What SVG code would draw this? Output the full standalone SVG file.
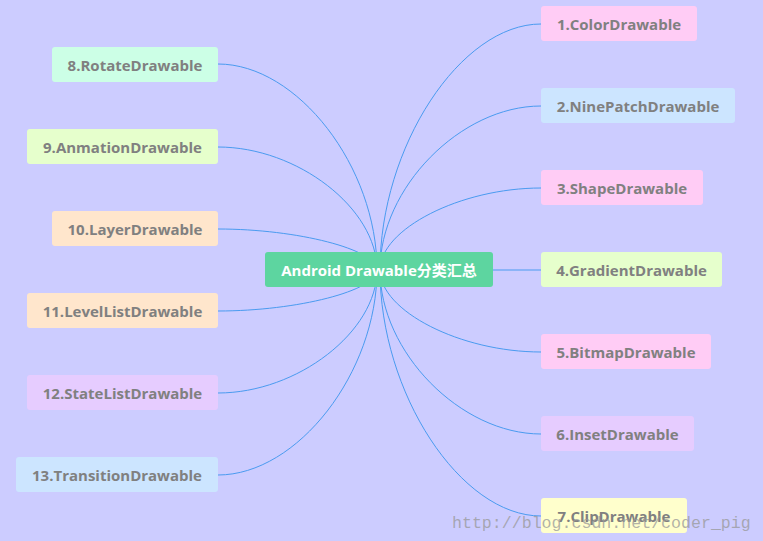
<svg xmlns="http://www.w3.org/2000/svg" width="763" height="541" viewBox="0 0 763 541">
<style>
.n text{font-family:"Open Sans","Noto Sans",sans-serif;font-weight:bold;font-size:15px;fill:#808080;text-anchor:middle;dominant-baseline:central}
.c path{fill:none;stroke:#4a9bf0;stroke-width:1}
.pink{fill:#ffccf5}.blue{fill:#cce5ff}.lime{fill:#e6ffcc}.lav{fill:#e6ccff}.yel{fill:#ffffcc}.mint{fill:#ccffe6}.peach{fill:#ffe6cc}
</style>
<rect width="763" height="541" fill="#ccccff"/>
<g class="c" id="connectors">
<path d="M380,270 C380,147 460.5,24 541,24"/>
<path d="M380,270 C380,188 460.5,106 541,106"/>
<path d="M380,270 C380,229 460.5,188 541,188"/>
<path d="M493,270 L541,270"/>
<path d="M380,270 C380,311 460.5,352 541,352"/>
<path d="M380,270 C380,352 460.5,434 541,434"/>
<path d="M380,270 C380,393 460.5,516 541,516"/>
<path d="M377,270 C377,167 297.5,64 218,64"/>
<path d="M377,270 C377,208.5 297.5,147 218,147"/>
<path d="M377,270 C377,249.5 297.5,229 218,229"/>
<path d="M377,270 C377,290.5 297.5,311 218,311"/>
<path d="M377,270 C377,331.5 297.5,393 218,393"/>
<path d="M377,270 C377,372.5 297.5,475 218,475"/>
</g>
<g id="center" class="n"><rect x="265" y="252" width="228" height="35" rx="3" fill="#5dd5a0"/><text x="379" y="270" style="fill:#ffffff;font-family:'Open Sans','Noto Sans CJK SC',sans-serif">Android Drawable分类汇总</text></g>
<g id="n1" class="n"><rect class="pink" x="541" y="6" width="156" height="35" rx="3"/><text x="619" y="24">1.ColorDrawable</text></g>
<g id="n2" class="n"><rect class="blue" x="541" y="88" width="194" height="35" rx="3"/><text x="638" y="106">2.NinePatchDrawable</text></g>
<g id="n3" class="n"><rect class="pink" x="541" y="170" width="162" height="35" rx="3"/><text x="622" y="188">3.ShapeDrawable</text></g>
<g id="n4" class="n"><rect class="lime" x="541" y="252" width="181" height="35" rx="3"/><text x="631.5" y="270">4.GradientDrawable</text></g>
<g id="n5" class="n"><rect class="pink" x="541" y="334" width="170" height="35" rx="3"/><text x="626" y="352">5.BitmapDrawable</text></g>
<g id="n6" class="n"><rect class="lav" x="541" y="416" width="153" height="35" rx="3"/><text x="617.5" y="434">6.InsetDrawable</text></g>
<g id="n7" class="n"><rect class="yel" x="541" y="498" width="146" height="35" rx="3"/><text x="614" y="516">7.ClipDrawable</text></g>
<g id="n8" class="n"><rect class="mint" x="52" y="47" width="166" height="35" rx="3"/><text x="135" y="65">8.RotateDrawable</text></g>
<g id="n9" class="n"><rect class="lime" x="27" y="129" width="191" height="35" rx="3"/><text x="122.5" y="147">9.AnmationDrawable</text></g>
<g id="n10" class="n"><rect class="peach" x="52" y="211" width="166" height="35" rx="3"/><text x="135" y="229">10.LayerDrawable</text></g>
<g id="n11" class="n"><rect class="peach" x="27" y="293" width="191" height="35" rx="3"/><text x="122.5" y="311">11.LevelListDrawable</text></g>
<g id="n12" class="n"><rect class="lav" x="27" y="375" width="191" height="35" rx="3"/><text x="122.5" y="393">12.StateListDrawable</text></g>
<g id="n13" class="n"><rect class="blue" x="16" y="457" width="202" height="35" rx="3"/><text x="117" y="475">13.TransitionDrawable</text></g>
<text x="452" y="528" font-family="'Liberation Mono',monospace" font-size="16.6" fill="#999999" fill-opacity="0.75">http://blog.csdn.net/coder_pig</text>
</svg>
